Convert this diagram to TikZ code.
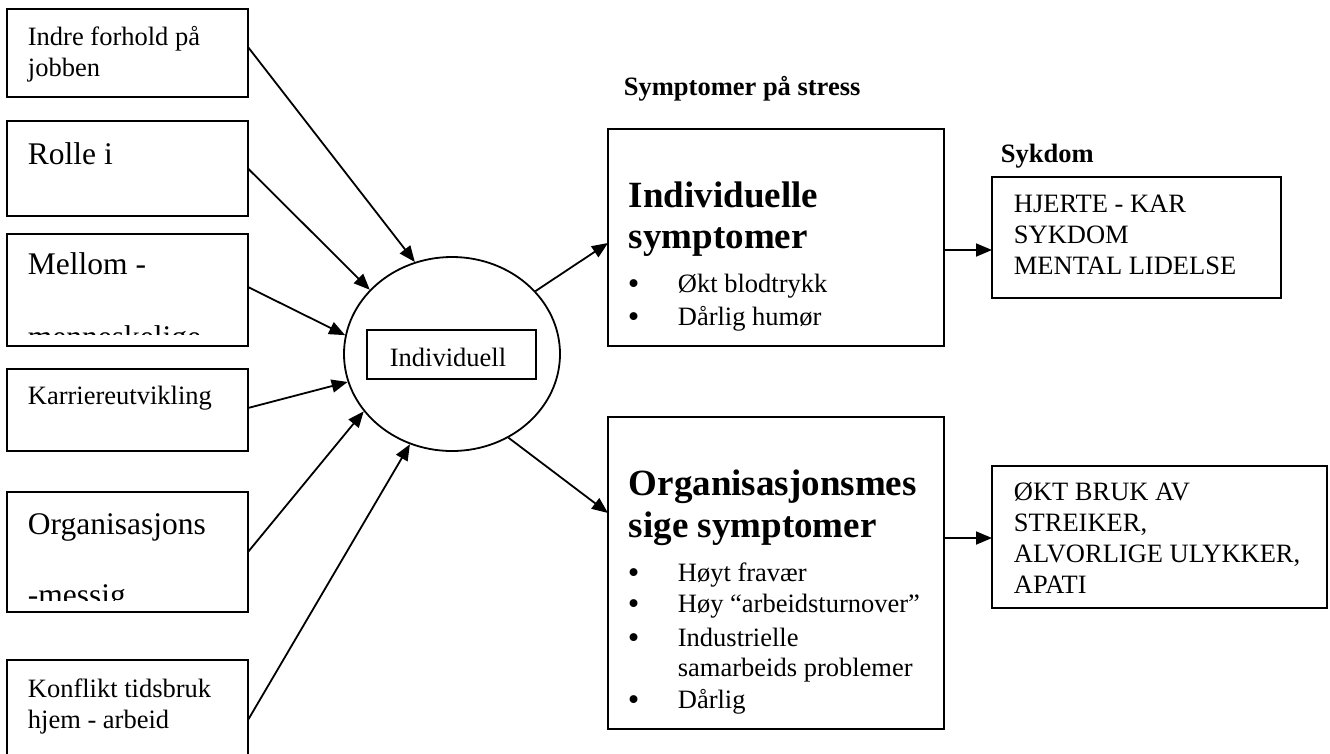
\documentclass[tikz,border=0pt]{standalone}
\usepackage{fontspec}
\setmainfont{Liberation Serif}
\usetikzlibrary{arrows.meta,shapes.geometric}
\begin{document}
\begin{tikzpicture}[x=1pt,y=-1pt, line width=1.8pt,
  box/.style={draw, rectangle, inner sep=0pt, outer sep=0pt, anchor=north west},
  txt/.style={anchor=base west, inner sep=0pt, font=\fontsize{26.5}{31}\selectfont},
  bul/.style={anchor=base west, inner sep=0pt, font=\fontsize{33}{35}\selectfont},
  bigtxt/.style={anchor=base west, inner sep=0pt, font=\fontsize{31.5}{36}\selectfont},
  head/.style={anchor=base west, inner sep=0pt, font=\bfseries\fontsize{37}{42}\selectfont},
  lbl/.style={anchor=base west, inner sep=0pt, font=\bfseries\fontsize{26.5}{31}\selectfont},
  arr/.style={-{Triangle[length=16pt,width=13pt]}, line width=1.8pt}]
\clip (0,0) rectangle (1330,753);
\useasboundingbox (0,0) rectangle (1330,753);
% left boxes
\node[box, minimum width=241pt, minimum height=88pt] (b1) at (7,9) {};
\node[box, minimum width=241pt, minimum height=95pt] (b2) at (7,121) {};
\node[box, minimum width=241pt, minimum height=112pt] (b3) at (7,234) {};
\node[box, minimum width=241pt, minimum height=82pt] (b4) at (7,369) {};
\node[box, minimum width=241pt, minimum height=120pt] (b5) at (7,492) {};
\node[box, minimum width=241pt, minimum height=120pt] (b6) at (7,660) {};
\node[txt] (t1a) at (27,45) {Indre forhold på};
\node[txt] (t1b) at (27,76) {jobben};
\node[bigtxt] (t2) at (27,164) {Rolle i};
\node[bigtxt] (t3a) at (27,274) {Mellom -};
\begin{scope}
\clip (7,234) rectangle (248,334);
\node[bigtxt] (t3b) at (27,347) {menneskelige};
\end{scope}
\node[txt] (t4) at (27,404) {Karriereutvikling};
\node[bigtxt] (t5a) at (27,534) {Organisasjons};
\begin{scope}
\clip (7,492) rectangle (248,600);
\node[bigtxt] (t5b) at (27,605) {-messig};
\end{scope}
\node[txt] (t6a) at (27,697) {Konflikt tidsbruk};
\node[txt] (t6b) at (27,728) {hjem - arbeid};
% circle
\node[draw, ellipse, minimum width=216pt, minimum height=194pt, inner sep=0pt] (circ) at (452,354) {};
\node[box, minimum width=169pt, minimum height=49pt] (ind) at (367,330) {};
\node[txt] (tind) at (389,366) {Individuell};
% middle boxes
\node[lbl] (title) at (623,95) {Symptomer på stress};
\node[box, minimum width=336pt, minimum height=217pt] (A) at (608,129) {};
\node[head] (ha1) at (628,207) {Individuelle};
\node[head] (ha2) at (628,248) {symptomer};
\node[bul] (ba1) at (627,294) {•};
\node[txt] (ta1) at (677,292) {Økt blodtrykk};
\node[bul] (ba2) at (627,327) {•};
\node[txt] (ta2) at (677,325) {Dårlig humør};
\node[box, minimum width=336pt, minimum height=312pt] (B) at (608,417) {};
\node[head] (hb1) at (628,495) {Organisasjonsmes};
\node[head] (hb2) at (628,537) {sige symptomer};
\node[bul] (bb1) at (627,583) {•};
\node[txt] (tb1) at (677,581) {Høyt fravær};
\node[bul] (bb2) at (627,614) {•};
\node[txt] (tb2) at (677,612) {Høy “arbeidsturnover”};
\node[bul] (bb3) at (627,648) {•};
\node[txt] (tb3) at (677,646) {Industrielle};
\node[txt] (tb3b) at (677,676) {samarbeids problemer};
\node[bul] (bb4) at (627,710) {•};
\node[txt] (tb4) at (677,708) {Dårlig};
% right boxes
\node[lbl] (syk) at (1000,162) {Sykdom};
\node[box, minimum width=289pt, minimum height=121pt] (C) at (992,177) {};
\node[txt] (tc1) at (1013,212) {HJERTE - KAR};
\node[txt] (tc2) at (1013,243) {SYKDOM};
\node[txt] (tc3) at (1013,274) {MENTAL LIDELSE};
\node[box, minimum width=335pt, minimum height=142pt] (D) at (992,466) {};
\node[txt] (td1) at (1013,500) {ØKT BRUK AV};
\node[txt] (td2) at (1013,531) {STREIKER,};
\node[txt] (td3) at (1013,562) {ALVORLIGE ULYKKER,};
\node[txt] (td4) at (1013,593) {APATI};
% arrows
\draw[arr] ([yshift=6pt]b1.east) -- (circ.112);
\draw[arr] (b2.east) -- (circ.142);
\draw[arr] ([yshift=3pt]b3.east) -- (circ.170);
\draw[arr] ([yshift=2pt]b4.east) -- (circ.195);
\draw[arr] (b5.east) -- (circ.213);
\draw[arr] (b6.east) -- (circ.245);
\draw[arr] (circ.37) -- ([yshift=-5.5pt]A.west);
\draw[arr] (circ.-56) -- ([yshift=60pt]B.west);
\draw[arr] ([yshift=-12.5pt]A.east) -- ([yshift=-12.5pt]C.west);
\draw[arr] ([yshift=35pt]B.east) -- ([yshift=35pt]B.east -| D.west);
\end{tikzpicture}
\end{document}
